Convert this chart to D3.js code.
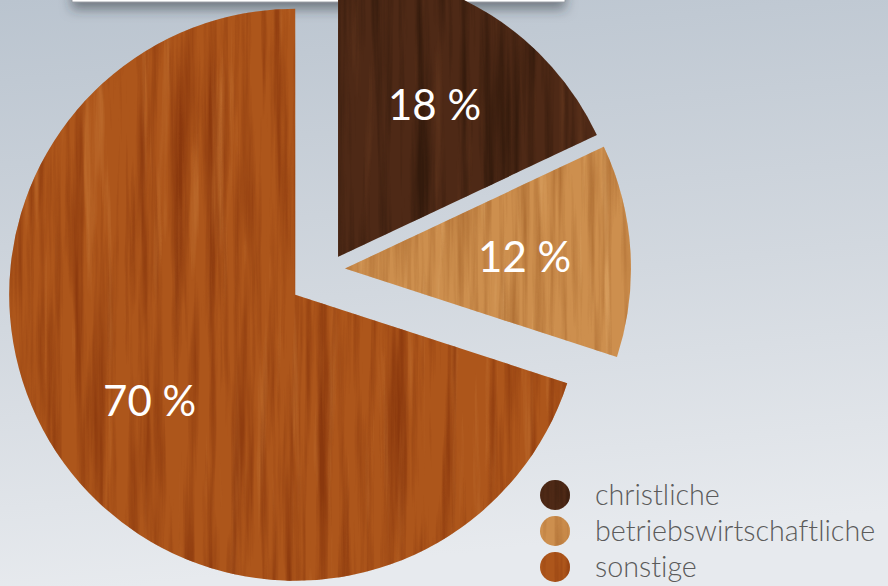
<!DOCTYPE html>
<html>
<head>
<meta charset="utf-8">
<script src="https://cdn.jsdelivr.net/npm/d3@7"></script>
<style>
  html, body { margin: 0; padding: 0; overflow: hidden; }
  body { width: 888px; height: 586px; }
  text { font-family: "Lato", "Open Sans", sans-serif; font-variant-ligatures: none; font-feature-settings: "liga" 0, "dlig" 0; }
</style>
</head>
<body>
<svg id="chart" width="888" height="586"></svg>
<script>
// data
var categories = ["christliche", "betriebswirtschaftliche", "sonstige"];
var shares = [18, 12, 70];
var labels = ["18 %", "12 %", "70 %"];

// wood look per slice: base, dark grain, light grain
var woodBase = ["#4e2916", "#cd8f4e", "#ad561b"];
var woodDark = ["#331a0c", "#a9692f", "#8a380d"];
var woodLight = ["#66391f", "#e2ad6e", "#c47535"];

var width = 888, height = 586;
var cx = 330, cy = 269.5, radius = 286;
var pull = [15, 15, 43];   // how far each slice is moved out

var svg = d3.select("#chart");
var defs = svg.append("defs");

// background
var bg = defs.append("linearGradient")
    .attr("id", "bg")
    .attr("x1", 0).attr("y1", 0).attr("x2", 0.15).attr("y2", 1);
bg.append("stop").attr("offset", "0%").attr("stop-color", "#bac4cf");
bg.append("stop").attr("offset", "55%").attr("stop-color", "#d2d8df");
bg.append("stop").attr("offset", "100%").attr("stop-color", "#e7eaee");

svg.append("rect")
    .attr("width", width)
    .attr("height", height)
    .attr("fill", "url(#bg)");

// shadow for the title box sticking in from the top
var sh = defs.append("filter")
    .attr("id", "boxShadow")
    .attr("x", "-10%").attr("y", "-10%")
    .attr("width", "120%").attr("height", "160%");
sh.append("feDropShadow")
    .attr("dx", 0).attr("dy", 7)
    .attr("stdDeviation", 6)
    .attr("flood-color", "#2a3038")
    .attr("flood-opacity", 0.5);

// wood grain filters
categories.forEach(function(c, i){
    var f = defs.append("filter")
        .attr("id", "wood" + i)
        .attr("x", 0).attr("y", 0).attr("width", 1).attr("height", 1)
        .attr("color-interpolation-filters", "sRGB");

    f.append("feTurbulence")
        .attr("type", "fractalNoise")
        .attr("baseFrequency", "0.09 0.004")
        .attr("numOctaves", 4)
        .attr("seed", 3 + i * 7)
        .attr("result", "noise");

    var dk = d3.color(woodDark[i]), lt = d3.color(woodLight[i]);

    f.append("feColorMatrix")
        .attr("in", "noise")
        .attr("type", "matrix")
        .attr("values", [
            0, 0, 0, 0, dk.r / 255,
            0, 0, 0, 0, dk.g / 255,
            0, 0, 0, 0, dk.b / 255,
            2.4, 0, 0, 0, -1.05].join(" "))
        .attr("result", "dark");

    f.append("feColorMatrix")
        .attr("in", "noise")
        .attr("type", "matrix")
        .attr("values", [
            0, 0, 0, 0, lt.r / 255,
            0, 0, 0, 0, lt.g / 255,
            0, 0, 0, 0, lt.b / 255,
            0, -2.4, 0, 0, 1.0].join(" "))
        .attr("result", "light");

    f.append("feComposite").attr("in", "dark").attr("in2", "SourceAlpha")
        .attr("operator", "in").attr("result", "darkIn");
    f.append("feComposite").attr("in", "light").attr("in2", "SourceAlpha")
        .attr("operator", "in").attr("result", "lightIn");

    var m = f.append("feMerge");
    m.append("feMergeNode").attr("in", "SourceGraphic");
    m.append("feMergeNode").attr("in", "lightIn");
    m.append("feMergeNode").attr("in", "darkIn");
});

// title box, mostly above the picture
svg.append("rect")
    .attr("x", 72)
    .attr("y", -60)
    .attr("width", 493)
    .attr("height", 62)
    .attr("fill", "#ffffff")
    .attr("stroke", "#8a8f96")
    .attr("stroke-width", 0.8)
    .attr("filter", "url(#boxShadow)");

// pie
var pie = d3.pie().sort(null).value(function(d){ return d; });
var arcs = pie(shares);

var arc = d3.arc().innerRadius(0).outerRadius(radius);
var labelArc = d3.arc().innerRadius(180).outerRadius(180);

var g = svg.append("g")
    .attr("transform", "translate(" + cx + "," + cy + ")");

var slices = g.selectAll(".slice")
    .data(arcs)
    .enter().append("g")
    .attr("class", "slice")
    .attr("transform", function(d, i){
        var mid = (d.startAngle + d.endAngle) / 2;
        return "translate(" + (Math.sin(mid) * pull[i]) + "," + (-Math.cos(mid) * pull[i]) + ")";
    });

slices.append("path")
    .attr("d", arc)
    .attr("fill", function(d, i){ return woodBase[i]; })
    .attr("filter", function(d, i){ return "url(#wood" + i + ")"; });

slices.append("text")
    .attr("transform", function(d){ return "translate(" + labelArc.centroid(d) + ")"; })
    .attr("text-anchor", "middle")
    .attr("dy", "0.36em")
    .attr("fill", "#ffffff")
    .attr("font-size", "42px")
    .attr("font-weight", 400)
    .text(function(d, i){ return labels[i]; });

// legend
var legendY = d3.scalePoint()
    .domain(categories)
    .range([495, 567]);

var legend = svg.append("g").attr("class", "legend");

var items = legend.selectAll(".item")
    .data(categories)
    .enter().append("g")
    .attr("class", "item")
    .attr("transform", function(d){ return "translate(555," + legendY(d) + ")"; });

items.append("circle")
    .attr("r", 15)
    .attr("fill", function(d, i){ return woodBase[i]; })
    .attr("filter", function(d, i){ return "url(#wood" + i + ")"; });

items.append("text")
    .attr("x", 40)
    .attr("dy", "0.36em")
    .attr("fill", "#5b5b5b")
    .attr("font-size", "28.7px")
    .attr("font-weight", 300)
    .text(function(d){ return d; });
</script>
</body>
</html>
